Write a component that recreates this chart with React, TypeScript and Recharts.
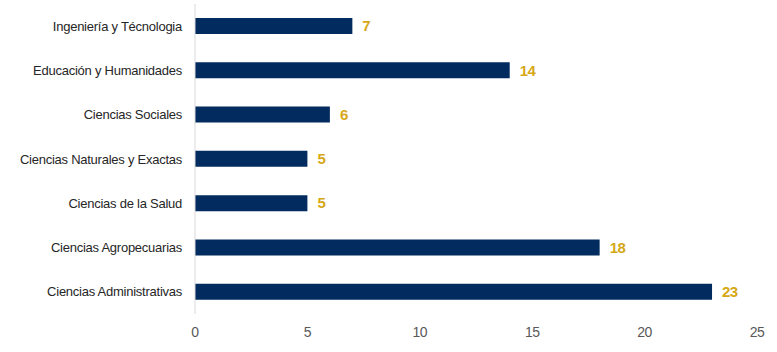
import { BarChart, Bar, XAxis, YAxis, LabelList } from 'recharts';

const areas = [
  'Ingeniería y Técnologia',
  'Educación y Humanidades',
  'Ciencias Sociales',
  'Ciencias Naturales y Exactas',
  'Ciencias de la Salud',
  'Ciencias Agropecuarias',
  'Ciencias Administrativas',
];
const counts = [7, 14, 6, 5, 5, 18, 23];
const xTicks = [0, 5, 10, 15, 20, 25];

const data = areas.map((name, i) => ({ name, value: counts[i] }));

const font = '"Liberation Sans Narrow", "Arial Narrow", "Liberation Sans", Arial, sans-serif';

export default function App() {
  return (
    <div style={{ position: 'absolute', left: 0, top: 0, fontFamily: font }}>
      <BarChart
        width={777}
        height={352}
        data={data}
        layout="vertical"
        margin={{ top: 4, right: 20, left: 0, bottom: 8 }}
        barCategoryGap={14}
      >
        <XAxis
          type="number"
          domain={[0, 25]}
          ticks={xTicks}
          axisLine={false}
          tickLine={false}
          tickMargin={7}
          height={30}
          tick={{ fill: '#595959', fontSize: 14, fontFamily: font, letterSpacing: -0.5 }}
          interval={0}
        />
        <YAxis
          type="category"
          dataKey="name"
          width={195}
          axisLine={{ stroke: '#d9d9d9' }}
          tickLine={false}
          tickMargin={7}
          tick={{ fill: '#262626', fontSize: 13, fontFamily: font, letterSpacing: -0.25 }}
          interval={0}
        />
        <Bar dataKey="value" fill="#022b5f" barSize={16} isAnimationActive={false}>
          <LabelList
            dataKey="value"
            position="right"
            offset={10}
            fill="#d6a816"
            fontSize={15}
            fontWeight="bold"
            fontFamily={font}
            letterSpacing={-0.5}
          />
        </Bar>
      </BarChart>
    </div>
  );
}
